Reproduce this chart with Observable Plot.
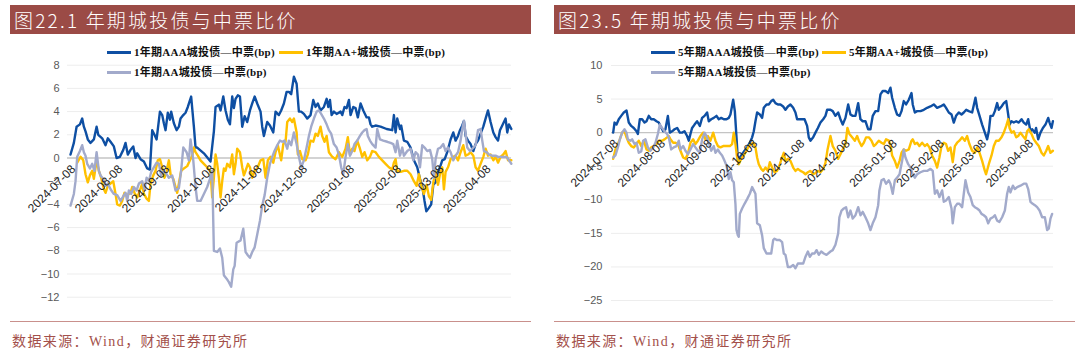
<!DOCTYPE html>
<html><head><meta charset="utf-8">
<script src="https://cdn.jsdelivr.net/npm/d3@7"></script>
<script src="https://cdn.jsdelivr.net/npm/@observablehq/plot@0.6"></script>
<style>
body{margin:0;background:#fff;}
#page{position:relative;width:1080px;height:358px;overflow:hidden;background:#fff;font-family:"Noto Sans CJK SC",sans-serif;}
.chart{position:absolute;top:0;width:540px;height:358px;}
.bar{position:absolute;top:5px;height:29px;width:521px;background:#9B4B46;color:#fff;font-size:19px;line-height:29px;letter-spacing:2.2px;padding-left:4px;box-sizing:border-box;white-space:nowrap;font-family:"Noto Sans CJK SC",sans-serif;font-weight:300;}
.sep{position:absolute;top:321px;height:1px;width:521px;background:#C9908C;}
.src{position:absolute;top:333px;font-size:14px;line-height:18px;color:#A3504B;letter-spacing:1.4px;font-family:"Liberation Serif","Noto Sans CJK SC",serif;white-space:nowrap;}
.lg-line{position:absolute;height:3px;width:24px;}
.lg-text{position:absolute;font-size:11px;line-height:14px;font-weight:bold;letter-spacing:0.25px;color:#111;font-family:"Liberation Serif","Noto Sans CJK SC",serif;white-space:nowrap;}
</style></head>
<body>
<div id="page"></div>
<script>
// ---------- data (day offsets from 2024-07-08, value in bp) ----------
const titles = ["图22.1 年期城投债与中票比价", "图23.5 年期城投债与中票比价"];
const sourceText = "数据来源：Wind，财通证券研究所";
const names1 = ["1年期AAA城投债—中票(bp)", "1年期AA+城投债—中票(bp)", "1年期AA城投债—中票(bp)"];
const names5 = ["5年期AAA城投债—中票(bp)", "5年期AA+城投债—中票(bp)", "5年期AA城投债—中票(bp)"];
const colors = ["#0E4FA3", "#FFC000", "#A2AACB"];
const xTickLabels = ["2024-07-08","2024-08-08","2024-09-08","2024-10-08","2024-11-08","2024-12-08","2025-01-08","2025-02-08","2025-03-08","2025-04-08"];
const yTicks1 = [-12,-10,-8,-6,-4,-2,0,2,4,6,8];
const yTicks5 = [-25,-20,-15,-10,-5,0,5,10];

const aaa1 = [[0,0.3],[2.2,1.3],[4,2.7],[6.2,2.9],[7.7,3.4],[8.8,2.7],[9.9,2.3],[11.4,1.6],[13.2,1.3],[15.4,1.6],[17.2,2.7],[18.3,2.0],[20.9,1.7],[23.1,1.1],[24.6,1.7],[26.4,1.4],[28.6,1.0],[30.4,0],[32.6,0.1],[34.8,0.7],[36.3,1.3],[37.8,0.3],[39.6,0.7],[41.4,1.0],[42.9,0],[44,0.4],[46.2,-0.1],[48.4,-0.3],[50.6,-0.9],[52.4,-1.0],[53.9,2.4],[55.4,2.0],[56.8,1.6],[59,4.0],[60.5,3.7],[61.6,3.0],[62.7,2.4],[64.2,3.9],[65.6,3.3],[66.4,4.0],[68.2,3.0],[70,2.4],[71.5,2.7],[72.6,3.4],[74.4,3.7],[75.9,3.9],[77.4,4.4],[79.6,5.3],[81.4,2.7],[82.5,0.9],[83.6,0.9],[88,0.4],[92.4,-0.3],[94.6,2.3],[95.7,4.4],[97.9,4.6],[99,4.1],[100.8,5.3],[102.3,4.1],[103.8,3.3],[105.2,2.9],[106.7,5.3],[107.8,4.3],[108.9,5.1],[110.4,5.4],[111.8,5.3],[113.3,2.7],[114.9,3.6],[116.6,3.1],[118.4,4.1],[119.9,4.7],[121.5,5.3],[123.2,4.7],[125.4,4.0],[126.5,2.7],[127.6,1.9],[129.8,3.1],[131.6,2.8],[133.8,2.2],[135.3,4.0],[137.5,3.7],[139,4.1],[140.8,4.7],[142.6,5.7],[144.1,5.7],[145.6,5.5],[147.4,7.0],[149.2,6.4],[150.7,4.0],[152.2,4.0],[154,3.8],[156.2,3.4],[158.4,3.7],[160.2,5.0],[161.7,4.4],[163.2,4.7],[165,4.1],[167.2,4.4],[169,5.1],[170.1,4.4],[171.2,5.0],[172.3,3.7],[173.8,4.0],[175.6,3.8],[178.2,4.0],[179.3,3.7],[180.8,4.4],[182.2,4.3],[183.7,5.0],[184.8,3.7],[186.6,4.4],[188.1,4.3],[189.6,3.5],[191.4,4.7],[193.2,4.1],[195.4,3.5],[196.9,3.5],[198,2.9],[199.1,2.7],[201.3,2.8],[204.6,2.7],[208.6,2.5],[212.3,2.4],[213.4,3.7],[214.5,2.2],[215.6,3.4],[217.4,2.5],[218.2,2.8],[220,1.5],[222.2,1.4],[224.4,0.9],[226.6,-0.2],[228.8,-0.8],[230.6,-1.8],[232.1,-2.4],[233.6,-3.7],[234.8,-4.6],[236.5,-4.3],[238,-4.0],[239.4,-2.3],[240.9,-2.1],[242,-1.4],[243.8,-0.8],[245.3,-0.2],[246.9,-0.1],[248.6,0.5],[250.8,1.6],[252.6,2.2],[254.1,1.5],[255.7,1.9],[257,2.4],[258.5,2.8],[259.6,3.2],[260.7,1.9],[262.3,1.5],[264,1.2],[265.8,0.6],[267.3,1.2],[268.9,1.5],[270.6,2.1],[272.4,2.7],[273.9,3.4],[275.5,4.1],[277.2,3.1],[279,2.2],[280.5,1.8],[282.1,1.5],[283.4,2.4],[284.9,2.8],[287.1,3.4],[288.2,2.2],[289.3,2.9],[290.9,2.5]];

const aap1 = [[4.4,-0.4],[6.6,0.1],[8.4,-0.2],[9.9,-1.4],[11.4,-2.1],[12.8,-1.5],[14.3,-1.1],[15.4,-1.8],[17.2,-0.2],[18.7,-1.1],[20.2,-1.7],[22,-2.7],[23.1,-3.0],[24.6,-2.4],[26.4,-2.2],[28.2,-2.0],[29.7,-3.1],[30.8,-4.0],[32.6,-4.1],[34.1,-3.7],[35.6,-3.0],[37.4,-3.2],[39.6,-3.0],[40.7,-2.5],[42.2,-3.0],[44,-3.4],[45.8,-2.8],[47.3,-2.2],[48.4,-3.1],[50.2,-3.5],[51.7,-3.7],[52.8,-2.2],[54.6,-1.5],[56.1,-1.1],[57.6,-0.2],[59,-0.1],[60.5,-0.8],[62,-1.7],[63.4,-1.1],[64.9,-0.2],[66,-1.4],[67.8,-1.8],[69.3,-2.5],[70.4,-3.0],[71.5,-2.2],[73,-1.1],[74.8,-0.9],[77,-0.7],[78.8,-0.2],[80.3,0.2],[81.4,0.9],[82.5,0.5],[84,0.2],[85.8,-0.2],[88,-0.5],[90.2,-0.8],[92.4,-1.2],[93.5,-3.4],[94.6,-1.7],[95.7,0.3],[96.8,-0.5],[97.9,-1.7],[99,-3.4],[100.1,-2.0],[101.2,-0.9],[102.3,-1.1],[103.4,-0.5],[105.2,-0.8],[106.7,0.3],[107.8,-1.4],[108.9,-0.5],[110,0.8],[111.8,0.5],[113.3,-0.8],[114.4,-1.5],[115.5,-1.1],[117.1,-0.5],[118.4,-0.8],[119.9,-1.7],[121.5,-1.1],[123.2,-0.9],[125.4,-0.2],[127.2,-0.1],[128.7,-1.7],[130.2,-0.2],[132,0.1],[133.8,-0.4],[135.3,0.5],[136.8,1.1],[139,-0.2],[140.4,1.2],[141.9,1.4],[143,3.1],[144.8,3.4],[146.3,3.1],[147.4,3.4],[149.2,2.2],[150,0.3],[151.4,0.6],[152.9,-0.1],[155.1,-0.2],[156.6,0.3],[158.4,1.5],[160.2,1.4],[161.7,2.1],[163.2,1.9],[165,2.7],[166.1,1.9],[167.6,1.4],[169,1.9],[170.5,0.5],[172.7,0.1],[174.9,-0.1],[177.1,0.5],[179.3,0.1],[181.5,0.8],[183,1.8],[184.4,0.3],[185.9,0.8],[187.4,0.6],[189.2,1.5],[191,0.8],[192.5,0.1],[194,0.5],[195.8,-0.2],[197.6,0.1],[199.1,0.6],[201.3,0.5],[203.5,0.1],[205.7,-0.2],[207.9,-0.5],[210.1,-0.8],[212.3,-1.0],[213.4,-0.4],[214.5,-0.1],[215.6,-1.1],[217.8,-1.2],[220,-1.1],[222.2,-1.1],[224.4,-1.4],[226.6,-2.0],[228.4,-2.4],[229.9,-1.4],[231.5,-2.4],[233.2,-3.1],[235,-2.3],[236.5,-3.3],[238,-3.6],[239.4,-2.1],[240.9,-1.1],[242.5,-2.3],[243.8,-1.4],[245.3,-0.8],[246.4,-2.7],[247.5,-1.2],[249.1,-0.8],[250.8,-0.1],[252.6,0.1],[254.1,0.2],[255.7,-0.2],[257.4,0.5],[259.2,1.1],[260.7,0.2],[262.3,0.3],[264,0.5],[265.8,0.2],[267.3,-0.8],[268.9,-1.1],[270.6,-0.5],[272.4,0.1],[273.9,0.8],[275.5,0.2],[277.2,0.3],[279,-0.2],[280.5,0.1],[282.1,-0.4],[283.8,0.1],[285.6,0.3],[287.1,0.6],[288.7,-0.2],[290.9,-0.2]];

const aa1 = [[0,-4.1],[2.2,-3.1],[3.3,-2.0],[4.4,0.1],[6.2,0.6],[7.7,1.1],[8.8,0.5],[9.9,0.2],[11,-0.5],[12.8,-0.9],[14.3,-0.5],[15.8,-1.1],[17.2,0.5],[18.7,-1.1],[19.8,-1.5],[21.6,-1.8],[23.1,-2.4],[24.6,-2.2],[26.4,-2.7],[28.6,-3.1],[30.8,-3.2],[33,-3.7],[34.8,-3.3],[36.3,-3.0],[37.4,-3.7],[38.5,-2.8],[40,-3.1],[41.8,-2.5],[43.6,-2.8],[45.1,-2.2],[47.3,-2.0],[48.8,-2.7],[50.2,-1.7],[51.7,-2.0],[53.2,-1.2],[55,-0.8],[56.8,-0.4],[58.3,-0.5],[59.8,-1.5],[61.6,-1.1],[63.4,-1.4],[64.9,-1.7],[67.1,-1.5],[69.3,-2.8],[71.5,-2.6],[73,-1.1],[74.4,0.9],[76.6,0.5],[78.1,-0.2],[79.2,1.6],[81,-0.2],[82.5,-2.5],[83.6,-3.7],[85.8,-3.7],[88,-3.1],[90.2,-2.5],[92,-1.8],[93.5,-1.1],[94.6,-8.0],[96.8,-8.1],[98.6,-7.8],[100.1,-8.6],[101.2,-10.1],[103,-10.4],[104.5,-10.7],[106,-11.1],[107.4,-9.6],[108.3,-9.3],[109.6,-7.3],[112.2,-7.1],[114,-6.1],[115.5,-8.1],[117.1,-8.4],[118.4,-8.6],[119.9,-8.1],[121.5,-7.7],[123.2,-6.6],[125,-5.4],[126.5,-4.1],[128.1,-3.2],[129.8,-1.7],[131.6,-0.5],[133.1,0.1],[134.6,0.6],[136.4,1.1],[138.2,1.5],[139.7,1.4],[141.2,1.5],[143,0.8],[144.1,1.5],[145.6,1.1],[147.4,2.2],[149.2,1.2],[150.7,0.1],[152.2,-0.8],[154,-0.2],[155.8,0.9],[157.3,1.9],[158.8,2.7],[160.6,3.4],[162.4,4.0],[163.9,4.1],[165.4,3.8],[167.2,3.4],[169,2.9],[170.5,2.4],[172,2.1],[173.8,1.2],[175.6,0.9],[177.1,0.3],[178.6,-0.8],[180,-1.4],[181.5,0.1],[183,1.2],[184.4,0.2],[185.9,0.6],[187.4,1.2],[189.2,1.5],[191,1.9],[192.5,2.2],[194,2.4],[195.4,2.5],[196.2,1.9],[197.6,1.5],[199.1,1.2],[201.3,0.9],[202.4,2.5],[204.2,1.6],[206.4,1.5],[209,1.4],[211.2,1.3],[213,1.2],[214.5,0.5],[215.6,1.5],[217.4,0.2],[218.9,0.9],[220,0.2],[222.2,0.6],[224.4,0.8],[226.2,-0.2],[227.7,0.5],[229.3,0.3],[230.6,-0.8],[232.1,1.1],[233.6,0.9],[235.4,0.6],[237.2,0.7],[238.7,-0.1],[239.8,-1.7],[240.9,-0.1],[242.5,0.8],[244.2,0.9],[246,1.2],[247.5,0.6],[249.1,0.9],[250.8,0.5],[252.6,-0.2],[254.1,0.2],[255.7,0.5],[257.4,1.5],[258.5,2.5],[259.6,3.2],[260.7,2.1],[261.8,0.9],[263.6,0.6],[265.1,0.8],[267.3,1.1],[268.9,2.4],[270.6,2.5],[271.7,1.5],[272.8,0.6],[274.6,0.5],[276.1,0.3],[278.3,0.2],[280.5,0.2],[282.1,0.1],[284.3,0.1],[286.5,0.1],[287.8,0.1],[289.3,-0.2],[290.9,-0.5]];

const aaa5 = [[0,0],[0.9,1.5],[2.2,1.2],[3.7,2.0],[5.3,2.5],[7,3.0],[8.8,3.3],[10.3,1.5],[11.9,1.0],[13.6,0.7],[15.4,0.2],[16.3,-0.2],[17.6,2.0],[19.1,2.0],[20.7,1.5],[22,1.7],[23.5,2.5],[25.1,2.0],[26.8,2.0],[28.6,1.7],[30.1,1.5],[31.2,1.0],[33,0.2],[34.5,0.5],[36.1,2.5],[37.4,0],[38.9,0.2],[40.5,0.5],[42.2,0.7],[44,0],[45.5,0],[47.1,0.2],[48.8,-0.5],[49.9,-1.2],[51,-0.2],[52.1,0.7],[53.7,1.2],[55.4,1.7],[57.2,1.0],[58.7,2.2],[60.3,2.5],[62,3.0],[63.1,1.7],[64.7,2.0],[66.4,2.2],[68.2,2.5],[69.7,2.0],[71.3,2.2],[73,2.0],[74.8,2.0],[76.3,2.2],[77.4,2.7],[79.2,4.9],[80.3,3.2],[81.4,-0.7],[82.3,-4.2],[83.6,-3.7],[85.1,-3.2],[86.7,-2.7],[88.4,-2.2],[90.2,-1.5],[91.7,-0.7],[92.8,0.2],[93.9,1.7],[95,3.0],[96.8,2.7],[98.3,2.2],[99.4,3.7],[101.2,4.2],[102.7,4.2],[104.3,4.7],[105.6,4.9],[107.1,4.4],[108.7,4.2],[110.4,4.2],[112.2,3.9],[113.7,3.4],[115.3,3.9],[117,4.2],[118.8,3.7],[120.3,3.0],[121.4,2.0],[123.2,2.0],[124.7,2.0],[126.3,2.0],[128,1.0],[129.1,-0.7],[130.2,-1.2],[132,-0.7],[133.5,0],[135.1,0.7],[136.8,1.5],[138.6,2.0],[140.1,2.5],[141.2,3.4],[143.4,3.4],[144.9,3.2],[146.7,2.5],[148.5,3.0],[150,2.0],[151.5,1.2],[153.3,2.2],[155.1,4.2],[156.6,2.7],[158.1,2.5],[159.9,2.5],[161.7,4.4],[163.2,2.0],[164.7,1.7],[166.5,1.7],[168.3,0.5],[169.8,0.5],[171.3,2.5],[173.1,3.2],[174.9,3.2],[176.4,5.7],[177.9,6.2],[179.7,6.2],[181.5,5.9],[183,6.7],[184.1,5.2],[185.9,3.7],[187.4,2.7],[189,2.5],[190.3,3.2],[191.8,4.7],[193.3,4.2],[195.1,4.9],[196.9,5.9],[197.7,4.2],[199.1,3.0],[200.6,3.2],[202.8,3.2],[205,3.4],[207.2,3.7],[209.4,3.9],[211.6,4.2],[213.8,3.7],[216,3.9],[218.2,4.2],[219.7,3.7],[221.5,3.0],[223.3,2.7],[224.8,1.5],[226.3,2.5],[228.1,3.0],[229.9,2.7],[231.4,3.0],[233,3.4],[234.7,3.2],[236.9,3.0],[239.1,5.2],[240.2,3.7],[241.8,2.5],[243.5,1.2],[245.3,0],[246.8,-1.0],[247.9,0.2],[249,2.5],[250.6,2.5],[251.9,3.2],[253.4,4.4],[254.5,3.4],[256.3,3.9],[257.8,4.4],[259.4,4.7],[260.7,2.7],[261.6,1.2],[262.9,1.7],[264.4,1.5],[266,1.7],[267.7,1.5],[269.5,2.0],[271,1.5],[272.6,1.2],[273.9,2.0],[275.4,0.2],[276.5,0.5],[278.3,0],[279.1,0.7],[280.5,-1.0],[282,0],[283.6,0.7],[285.3,1.2],[287.1,2.2],[288,1.5],[289.3,0.7],[290.2,1.7]];

const aap5 = [[0,-3.9],[1.5,-2.5],[3.1,-1.7],[4.4,-1.0],[5.9,0],[7.5,0.2],[8.8,-0.7],[10.3,-1.5],[11.9,-2.0],[13.6,-2.2],[15.4,-1.7],[16.9,-1.2],[18.5,-2.0],[20.2,-1.2],[22,-2.5],[23.5,-2.7],[25.1,-2.2],[26.8,-2.0],[28.6,-1.7],[30.1,-1.2],[32.3,-1.2],[33.9,-1.0],[35.6,-0.7],[36.7,-0.5],[37.8,-1.0],[39.6,-1.5],[41.1,-1.5],[42.7,-1.7],[44.4,-2.7],[46.2,-3.7],[47.7,-3.9],[49.3,-3.2],[51,-1.5],[52.8,-1.0],[54.3,-1.7],[55.9,-1.2],[57.6,-0.5],[59.4,0],[60.9,-1.0],[62.5,-0.5],[64.2,-1.2],[66,0],[67.5,-1.2],[69.1,-2.0],[70.8,-2.2],[72.6,-2.0],[74.8,-2.0],[77,-2.0],[78.5,-1.7],[79.6,0],[80.7,-1.7],[81.8,-3.7],[82.9,-4.7],[84.5,-3.9],[86.2,-3.4],[88,-2.7],[89.5,-2.0],[91.1,-1.7],[92.4,-1.5],[93.9,-2.2],[95,-3.7],[96.1,-4.7],[97.7,-5.4],[99,-5.7],[100.5,-5.2],[102.1,-5.7],[103.4,-4.4],[104.9,-5.2],[106.5,-5.9],[108.2,-5.7],[110,-4.7],[111.5,-3.7],[112.6,-3.0],[113.7,-4.2],[115.3,-3.9],[117,-4.2],[118.8,-5.2],[120.3,-5.7],[121.9,-5.4],[123.6,-5.7],[125.4,-5.9],[126.9,-6.2],[128.5,-5.9],[130.2,-5.7],[132,-6.2],[133.5,-6.0],[135.1,-5.7],[136.8,-5.9],[138.6,-5.4],[140.1,-4.5],[141.5,-2.5],[143.4,-0.5],[144.9,-2.0],[146.7,-2.7],[148.5,-3.9],[150,-3.2],[151.5,-2.5],[153.3,-1.7],[154.6,0.7],[155.9,-0.2],[157.7,-0.7],[159.5,-1.2],[161,-0.5],[162.1,-1.2],[163.9,-2.0],[165.4,-1.5],[166.9,-0.7],[168.7,-0.7],[170.5,-1.2],[172,-2.0],[173.5,-1.7],[175.3,-1.2],[177.1,-1.5],[178.6,-1.7],[180.1,-1.0],[181.9,-1.2],[183.2,-2.0],[184.1,-3.4],[185.9,-4.2],[187.4,-5.2],[189,-4.2],[190.3,-3.0],[191.8,-2.5],[193.3,-2.7],[195.1,-2.5],[196.9,-1.2],[197.7,-1.0],[199.1,-1.7],[200.6,-1.5],[202.1,-2.0],[203.9,-1.5],[205.7,-2.0],[207.2,-1.7],[208.7,-2.2],[210.5,-3.4],[212.3,-4.2],[213.8,-5.2],[215.3,-3.7],[216.7,-2.0],[218.2,-1.5],[219.7,-1.7],[221.1,-2.7],[222.6,-2.2],[224.1,-4.4],[225.5,-2.0],[227,-1.5],[228.5,-1.2],[230.3,-0.7],[232.1,-1.2],[233.6,-0.5],[235.1,-1.7],[236.9,-2.7],[238.7,-3.0],[240.2,-2.2],[241.8,-3.0],[243.5,-4.2],[245.3,-5.7],[246.1,-6.2],[247.9,-4.7],[249.7,-3.4],[251.2,-2.0],[252.7,-1.2],[254.5,-1.2],[256.3,-0.7],[257.8,0],[259.4,1.0],[260.7,2.0],[261.6,0.7],[262.9,0],[264.4,0.2],[266,-0.7],[267.3,-0.5],[268.8,0],[270.4,-0.5],[272.1,-1.0],[273.2,0.2],[274.3,0.5],[276.1,-0.2],[277.6,-1.0],[279.2,-1.5],[280.9,-2.0],[282.7,-3.0],[284.2,-3.4],[285.8,-2.7],[287.1,-2.0],[288.6,-3.0],[290.2,-2.7]];

const aa5 = [[0,-3.7],[1.5,-3.4],[3.1,-2.2],[4.4,-1.0],[5.9,0],[7.5,0.5],[8.8,0],[9.7,-1.0],[11.4,-1.2],[12.5,-1.0],[14.1,-1.7],[15.4,-1.5],[16.9,-3.0],[18.5,-2.8],[19.8,-1.2],[21.3,-1.0],[22.9,-2.2],[24.6,-2.7],[26.4,-2.2],[27.9,-1.5],[29.5,-0.2],[30.8,1.2],[32.3,0.7],[33.9,0.2],[35.6,-0.2],[36.7,-0.7],[38.3,-2.5],[40,-2.2],[41.8,-2.0],[43.3,-1.2],[44.4,-2.5],[46.2,-2.0],[47.7,-2.7],[49.3,-3.2],[51,-2.5],[52.8,-1.7],[54.3,-2.2],[55.9,-2.7],[57.2,-3.0],[58.7,-1.0],[60.3,0],[61.6,-0.5],[63.1,-1.5],[64.7,-2.7],[66.4,-2.0],[67.5,-3.0],[69.1,-2.5],[70.4,-3.0],[71.9,-3.4],[73.5,-4.2],[74.8,-4.9],[76.3,-6.9],[77.4,-5.9],[78.5,-7.1],[79.6,-7.4],[80.7,-10.6],[81.4,-14.5],[82.3,-15.3],[82.9,-15.5],[83.6,-12.1],[85.1,-11.3],[86.7,-10.6],[88.4,-9.9],[90.2,-9.1],[91.7,-8.1],[92.8,-8.6],[93.9,-9.1],[95,-13.5],[96.8,-13.8],[98.3,-15.3],[99.4,-17.2],[101.2,-18.0],[102.7,-18.0],[104.3,-18.0],[105.6,-16.0],[106.5,-15.8],[108.2,-16.0],[110,-16.0],[111.5,-16.3],[112.6,-18.0],[113.7,-18.2],[115.3,-20.0],[117,-20.0],[118.8,-19.7],[120.3,-20.2],[121.9,-19.5],[123.6,-19.5],[125.4,-19.5],[126.9,-18.5],[128.5,-17.7],[129.8,-18.5],[131.3,-18.0],[132.9,-18.0],[134.2,-17.5],[135.7,-18.2],[137.3,-17.7],[139,-18.0],[140.8,-18.2],[143.4,-17.7],[144.9,-17.5],[146.7,-16.7],[148.5,-15.0],[149.3,-12.6],[150.7,-11.6],[152.2,-11.3],[153.7,-11.1],[155.1,-12.6],[156.6,-11.6],[158.1,-12.8],[159.9,-12.3],[161.7,-11.1],[163.2,-12.3],[164.7,-11.8],[166.5,-12.6],[168.3,-13.5],[169.8,-14.5],[171.3,-13.5],[173.1,-12.6],[174.9,-10.8],[175.7,-8.6],[177.1,-7.1],[178.6,-6.9],[180.1,-7.6],[181.9,-7.1],[183,-7.6],[184.5,-9.1],[185.9,-7.1],[187.4,-6.7],[189,-6.2],[190.7,-4.2],[191.8,-2.5],[192.9,-3.7],[194.7,-4.7],[196.2,-5.2],[197.7,-6.2],[199.1,-6.7],[200.6,-6.2],[202.8,-5.9],[205,-5.7],[207.2,-5.7],[209.4,-5.4],[210.9,-5.7],[212.3,-9.1],[213.8,-8.6],[215.3,-9.6],[217.1,-8.6],[218.2,-10.3],[219.7,-10.1],[221.5,-9.6],[223.3,-11.3],[224.1,-13.5],[225.5,-11.1],[227,-10.6],[228.5,-10.6],[230.3,-11.1],[231.4,-9.1],[232.5,-7.1],[234.3,-8.9],[235.8,-9.6],[237.3,-10.8],[238.7,-11.1],[240.2,-11.3],[241.8,-11.6],[243.1,-12.1],[244.6,-12.3],[246.1,-12.6],[247.5,-13.5],[249,-12.8],[250.6,-12.6],[251.9,-12.3],[253.4,-13.1],[254.9,-13.3],[256.7,-12.6],[258.5,-11.6],[260,-9.1],[261.1,-8.1],[262.2,-8.9],[263.8,-7.9],[265.1,-8.4],[266.6,-8.1],[268.8,-7.9],[271,-7.6],[272.6,-7.6],[273.9,-8.4],[275.4,-10.3],[276.9,-10.6],[278.3,-10.8],[279.8,-11.1],[281.4,-11.6],[283.1,-12.6],[284.9,-12.6],[286.4,-14.5],[287.5,-14.3],[288.6,-12.8],[289.7,-12.1]];

// ---------- helpers ----------
const DAY = 864e5;
const START = Date.UTC(2024, 6, 8);
const toDate = d => new Date(START + d * DAY);
const tickDates = xTickLabels.map(s => new Date(s + "T00:00:00Z"));
const page = document.getElementById("page");

function el(tag, cls, style, text) {
  const e = document.createElement(tag);
  if (cls) e.className = cls;
  Object.assign(e.style, style || {});
  if (text != null) e.textContent = text;
  page.appendChild(e);
  return e;
}

function drawPanel(cfg) {
  const holder = el("div", "chart", {left: cfg.left + "px"});
  const lines = cfg.series.map((s, i) => Plot.line(s, {
    x: d => toDate(d[0]), y: d => d[1], stroke: colors[i], strokeWidth: 2.4, strokeLinejoin: "round"
  }));
  const svg = Plot.plot({
    width: 540, height: 358,
    marginLeft: cfg.ml, marginRight: cfg.mr, marginTop: cfg.mt, marginBottom: cfg.mb,
    style: {fontFamily: "'Liberation Sans', Arial, sans-serif", fontSize: "11px", color: "#595959", background: "transparent", overflow: "visible"},
    x: {type: "utc", domain: cfg.xDays.map(toDate), axis: null},
    y: {domain: cfg.yDomain, axis: null},
    marks: [
      Plot.ruleY(cfg.yTicks.filter(t => t !== 0), {stroke: "#EDEDED", strokeWidth: 1}),
      Plot.ruleY([0], {stroke: "#C4C4C4", strokeWidth: 1.3}),
      Plot.axisY({ticks: cfg.yTicks, tickSize: 0, tickPadding: cfg.pad, fontSize: 11, fill: "#595959"}),
      ...lines,
      Plot.text(tickDates, {
        x: d => d, y: () => 0, text: (d, i) => xTickLabels[i],
        rotate: -45, textAnchor: "end", lineAnchor: "middle", dx: 3, dy: 9,
        fontSize: 12, fill: "#262626"
      })
    ]
  });
  holder.appendChild(svg);

  // title bar, separator, source
  el("div", "bar", {left: cfg.barLeft + "px"}, cfg.title);
  el("div", "sep", {left: cfg.barLeft + "px"});
  el("div", "src", {left: (cfg.barLeft + 2) + "px"}, sourceText);

  // legend
  cfg.legend.forEach((p, i) => {
    el("div", "lg-line", {left: p[0] + "px", top: (p[1] - 1.5) + "px", background: colors[i]});
    el("div", "lg-text", {left: (p[0] + 27) + "px", top: (p[1] - 7.5) + "px"}, cfg.names[i]);
  });
}

drawPanel({
  left: 0, barLeft: 10, title: titles[0], names: names1,
  ml: 67, mr: 29, mt: 64.7, mb: 61.3, pad: 8,
  xDays: [-2, 291], yDomain: [-12, 8], yTicks: yTicks1,
  series: [aaa1, aap1, aa1],
  legend: [[107, 52], [279, 52], [107, 72]]
});
drawPanel({
  left: 540, barLeft: 554, title: titles[1], names: names5,
  ml: 71, mr: 27, mt: 65, mb: 58, pad: 9,
  xDays: [-1.1, 290.6], yDomain: [-25, 10], yTicks: yTicks5,
  series: [aaa5, aap5, aa5],
  legend: [[651, 52], [822, 52], [651, 72]]
});
</script>
</body></html>
